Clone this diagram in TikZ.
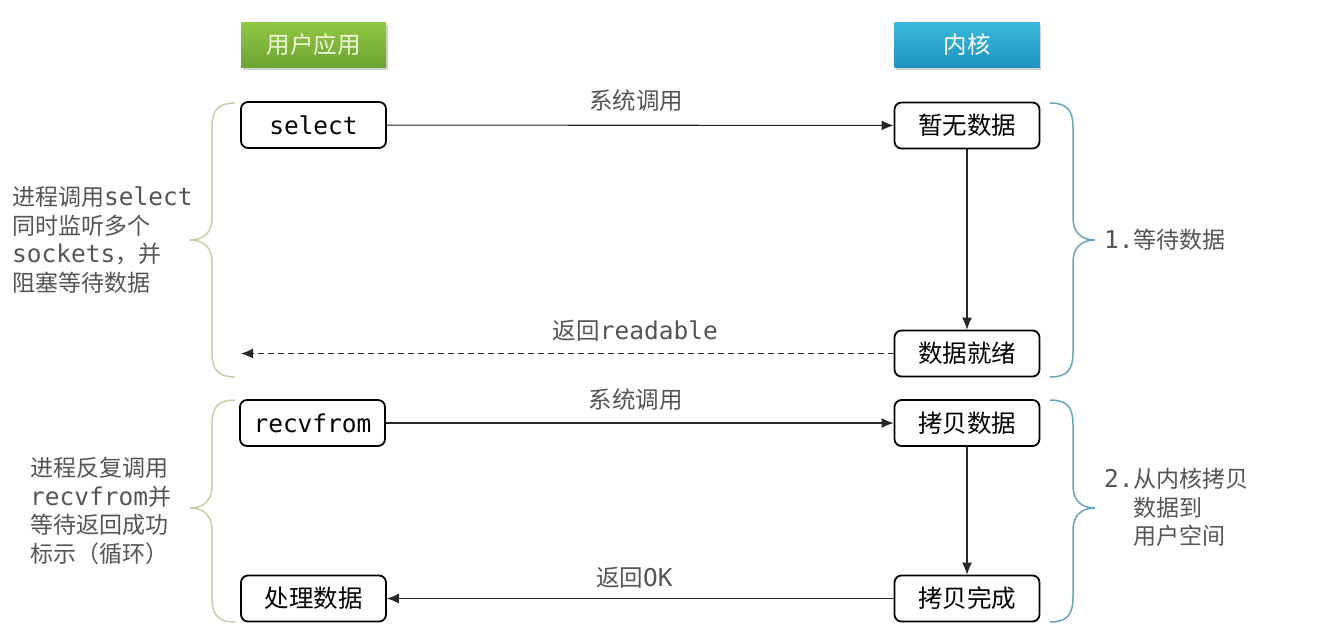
\documentclass[tikz,border=0pt]{standalone}
\usepackage{fontspec}
\setmainfont{Noto Sans CJK SC}
\setmonofont{DejaVu Sans Mono}
\usetikzlibrary{arrows.meta,shadows}
\definecolor{txtgray}{RGB}{85,85,85}
\definecolor{gtop}{RGB}{146,200,68}
\definecolor{gbot}{RGB}{108,164,50}
\definecolor{btop}{RGB}{60,184,220}
\definecolor{bbot}{RGB}{30,148,194}
\definecolor{lbrace}{RGB}{205,205,165}
\definecolor{rbrace}{RGB}{105,165,188}
\tikzset{
  hdr/.style={minimum width=145pt,minimum height=45pt,inner sep=0pt,font=\fontsize{23.5}{24}\selectfont,
    drop shadow={shadow xshift=1.5pt,shadow yshift=-2.5pt,opacity=0.35}},
  box/.style={draw=black,line width=1.8pt,rounded corners=7pt,minimum width=145pt,minimum height=46pt,
    inner sep=0pt,fill=white,font=\fontsize{24.5}{26}\selectfont},
  conn/.style={line width=1.1pt,draw=black!85,-{Latex[length=12pt,width=10pt]}},
  lbl/.style={text=txtgray,font=\fontsize{23.5}{26}\selectfont,inner sep=0pt},
  side/.style={text=txtgray,font=\fontsize{23}{28.5}\selectfont,align=left,inner sep=0pt},
  brc/.style={line width=1.5pt},
}
\newcommand{\mt}[1]{{\fontsize{24.5}{24}\selectfont\ttfamily #1}}
\begin{document}
\begin{tikzpicture}[x=1pt,y=-1pt]
\path[use as bounding box,fill=white] (0,0) rectangle (1317,638);
% headers
\node[hdr,top color=gtop,bottom color=gbot,text={rgb,255:red,240;green,250;blue,215}] (hu) at (313.5,44.5) {用户应用};
\node[hdr,top color=btop,bottom color=bbot,text=white] (hk) at (967,44.5) {内核};
% boxes
\node[box] (sel) at (313.5,125) {\mt{select}};
\node[box] (k1) at (967,125.5) {暂无数据};
\node[box] (k2) at (967,353.5) {数据就绪};
\node[box] (rec) at (312.5,423) {\mt{recvfrom}};
\node[box] (k3) at (967,423) {拷贝数据};
\node[box] (proc) at (313.5,598.5) {处理数据};
\node[box] (k4) at (967,598.5) {拷贝完成};
\coordinate (rd) at (241,353.5);
% connectors
\draw[conn] (sel) -- node[lbl,above=13pt,xshift=-4pt] (l1) {系统调用} (k1);
\draw[conn] (k1) -- (k2);
\draw[conn,dashed,dash pattern=on 6pt off 4pt] (k2) -- node[lbl,above=12pt,xshift=68pt] (l2) {返回\mt{readable}} (rd);
\draw[conn] (rec) -- node[lbl,above=12pt,xshift=-4pt] (l3) {系统调用} (k3);
\draw[conn] (k3) -- (k4);
\draw[conn] (k4) -- node[lbl,above=10pt,xshift=-6pt] (l4) {返回\mt{OK}} (proc);
% braces left
\draw[brc,lbrace] (235,103) .. controls (218,103) and (212,110) .. (212,128) -- (212,218)
  .. controls (212,232) and (204,240) .. (190,240)
  .. controls (204,240) and (212,248) .. (212,262) -- (212,352)
  .. controls (212,370) and (218,377) .. (235,377);
\draw[brc,lbrace] (235,400) .. controls (218,400) and (212,407) .. (212,425) -- (212,486)
  .. controls (212,500) and (204,508) .. (190,508)
  .. controls (204,508) and (212,516) .. (212,530) -- (212,597)
  .. controls (212,615) and (218,622) .. (235,622);
% braces right
\draw[brc,rbrace] (1050,103) .. controls (1067,103) and (1073,110) .. (1073,128) -- (1073,218)
  .. controls (1073,232) and (1081,240) .. (1095,240)
  .. controls (1081,240) and (1073,248) .. (1073,262) -- (1073,352)
  .. controls (1073,370) and (1067,377) .. (1050,377);
\draw[brc,rbrace] (1050,400) .. controls (1067,400) and (1073,407) .. (1073,425) -- (1073,486)
  .. controls (1073,500) and (1081,508) .. (1095,508)
  .. controls (1081,508) and (1073,516) .. (1073,530) -- (1073,597)
  .. controls (1073,615) and (1067,622) .. (1050,622);
% side texts
\node[side,anchor=west] (t1) at (12,240) {进程调用\mt{select}\\同时监听多个\\\mt{sockets}，并\\阻塞等待数据};
\node[side,anchor=west] (t2) at (30,511) {进程反复调用\\\mt{recvfrom}并\\等待返回成功\\标示（循环）};
\node[side,anchor=west] (t3) at (1104,240) {\mt{1.}等待数据};
\node[side,anchor=north west] (t4) at (1104,468) {\mt{2.}从内核拷贝\\\hspace*{29pt}数据到\\\hspace*{29pt}用户空间};
\end{tikzpicture}
\end{document}
